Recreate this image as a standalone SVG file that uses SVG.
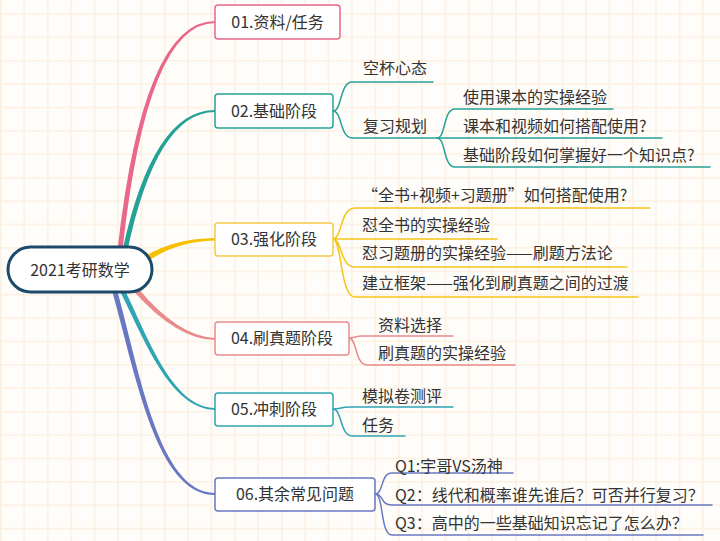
<svg xmlns="http://www.w3.org/2000/svg" width="720" height="541" viewBox="0 0 720 541">
<defs>
<pattern id="grid" x="0" y="13" width="23.4" height="23.4" patternUnits="userSpaceOnUse">
<rect x="0" y="0" width="23.4" height="23.4" fill="#fffdfa"/>
<path d="M0 0 H23.4 M0 0 V23.4" stroke="#fdf1e4" stroke-width="3.5" fill="none"/>
</pattern>
<style>
text{font-family:"Noto Sans CJK SC","Liberation Sans",sans-serif;font-size:16px;fill:#333;}
.n{text-anchor:middle;}
.box{fill:#fff;stroke-width:1.5;}
.sub{fill:none;stroke-width:1.5;stroke-linecap:round;}
</style>
</defs>
<rect width="720" height="541" fill="url(#grid)"/>
<g id="connectors">
<path d="M117.5 250 Q143 21 215 21 L215 23 Q147 23 122.5 250 Z" fill="#e8678a"/>
<path d="M122.5 250 Q153 110 215 110 L215 112 Q157 112 127.5 250 Z" fill="#26a197"/>
<path d="M144.4 256.5 Q174 238.5 215 238 L215 240.5 Q176 241.5 147.6 261.5 Z" fill="#f5c000"/>
<path d="M137.9 288.3 Q179 337 215 338 L215 340 Q177 339.5 134.1 291.7 Z" fill="#e88b8b"/>
<path d="M124.2 288.9 C147 334 171 407 215 408 L215 410 C169 409 143 336 119.8 291.1 Z" fill="#2fa5b3"/>
<path d="M117.4 291.3 C140 374 159.5 493 215 493 L215 495 C156.5 495 136 376 112.6 292.7 Z" fill="#6878c2"/>
<g class="sub" stroke="#26a197">
<path d="M333 111 C342 111 340 82 352 82 L433 82"/>
<path d="M333 111 C342 111 340 138 352 138 L662 138"/>
<path d="M437 138 C446 138 443 109 455 109 L613 109"/>
<path d="M437 138 C446 138 443 167 455 167 L710 167"/>
</g>
<g class="sub" stroke="#f5c518">
<path d="M333 239 C342 239 340 208 355 208 L650 208"/>
<path d="M333 239 L497 239"/>
<path d="M333 239 C342 239 340 267 355 267 L627 267"/>
<path d="M333 239 C342 239 340 297 355 297 L638 297"/>
</g>
<g class="sub" stroke="#e88b8b">
<path d="M349 338 C356 338 355 336 362 336 L453 336"/>
<path d="M349 338 C357 338 355 365 367 365 L515 365"/>
</g>
<g class="sub" stroke="#2fa5b3">
<path d="M333 409 C342 409 340 407 350 407 L453 407"/>
<path d="M333 409 C342 409 340 436 352 436 L405 436"/>
</g>
<g class="sub" stroke="#6878c2">
<path d="M375 494 C384 494 380 473 392 473 L513 473"/>
<path d="M375 494 C384 494 380 505 392 505 L712 505"/>
<path d="M375 494 C384 494 380 535 392 535 L703 535"/>
</g>
</g>
<g id="root">
<rect x="8" y="247" width="144" height="45" rx="22.5" fill="#fff" stroke="#1b4a6b" stroke-width="3"/>
<text class="n" x="80" y="275.5">2021考研数学</text>
</g>
<g id="n01">
<rect class="box" x="215" y="5" width="125" height="34" rx="3" stroke="#e8678a"/>
<text class="n" x="277.5" y="27.5">01.资料/任务</text>
</g>
<g id="n02">
<rect class="box" x="215" y="94" width="118" height="34" rx="3" stroke="#26a197"/>
<text class="n" x="274" y="116.5">02.基础阶段</text>
<text x="363" y="74">空杯心态</text>
<text x="363" y="132">复习规划</text>
<text x="463" y="103">使用课本的实操经验</text>
<text x="463" y="132">课本和视频如何搭配使用?</text>
<text x="463" y="161">基础阶段如何掌握好一个知识点?</text>
</g>
<g id="n03">
<rect class="box" x="215" y="223" width="118" height="33" rx="3" stroke="#f7c948"/>
<text class="n" x="274" y="245">03.强化阶段</text>
<text x="362" y="201">“全书+视频+习题册”如何搭配使用?</text>
<text x="362" y="231">怼全书的实操经验</text>
<text x="362" y="259">怼习题册的实操经验——刷题方法论</text>
<text x="362" y="289">建立框架——强化到刷真题之间的过渡</text>
</g>
<g id="n04">
<rect class="box" x="215" y="322" width="134" height="33" rx="3" stroke="#e88b8b"/>
<text class="n" x="282" y="344">04.刷真题阶段</text>
<text x="378" y="331">资料选择</text>
<text x="378" y="359">刷真题的实操经验</text>
</g>
<g id="n05">
<rect class="box" x="215" y="393" width="118" height="33" rx="3" stroke="#2fa5b3"/>
<text class="n" x="274" y="415">05.冲刺阶段</text>
<text x="362" y="402">模拟卷测评</text>
<text x="362" y="431">任务</text>
</g>
<g id="n06">
<rect class="box" x="215" y="478" width="160" height="33" rx="3" stroke="#6878c2"/>
<text class="n" x="295" y="500">06.其余常见问题</text>
<text x="395" y="472">Q1:宇哥VS汤神</text>
<text x="395" y="501">Q2：线代和概率谁先谁后？可否并行复习？</text>
<text x="395" y="529">Q3：高中的一些基础知识忘记了怎么办？</text>
</g>
</svg>
